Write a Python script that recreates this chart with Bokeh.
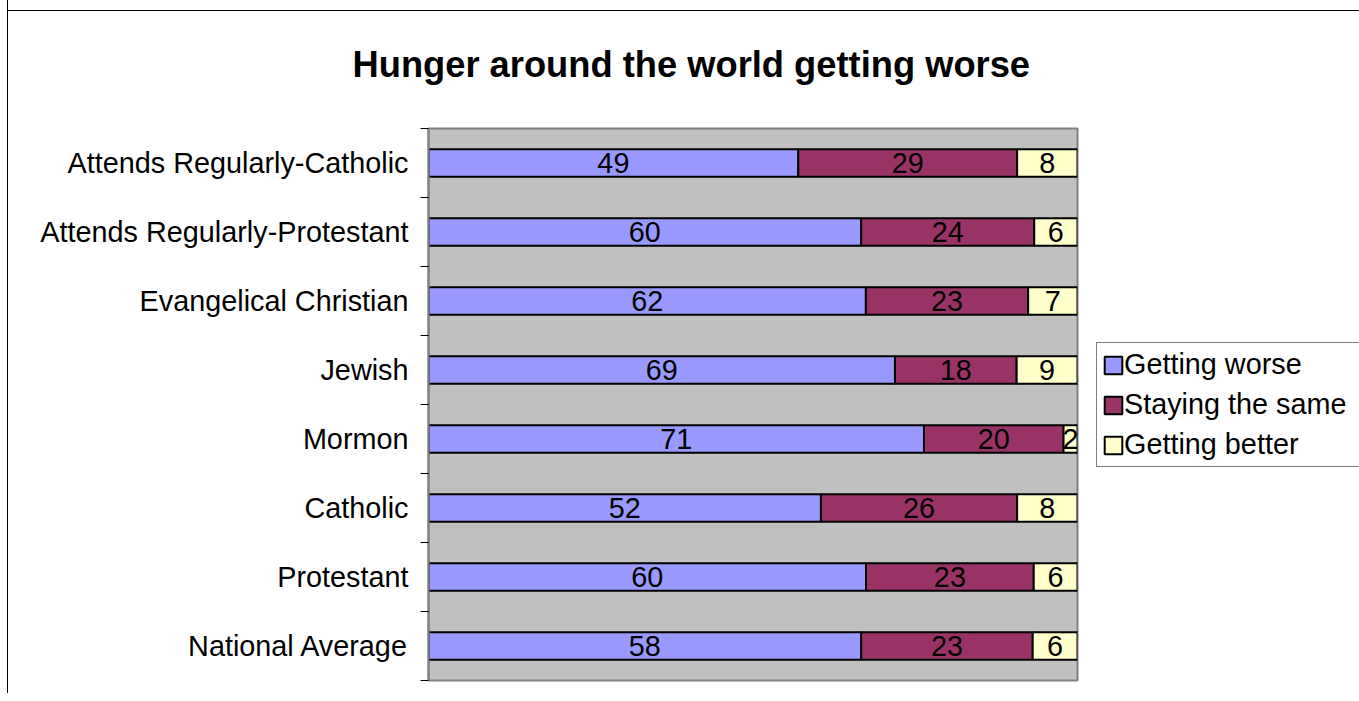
from bokeh.plotting import figure
from bokeh.models import (ColumnDataSource, Range1d, FixedTicker, Legend, LegendItem, Title)
from bokeh.core.properties import value
from bokeh.embed import file_html
from bokeh.resources import INLINE

# ---- data (top to bottom as shown) ----
categories = ["Attends Regularly-Catholic", "Attends Regularly-Protestant",
              "Evangelical Christian", "Jewish", "Mormon", "Catholic",
              "Protestant", "National Average"]
getting_worse = [49, 60, 62, 69, 71, 52, 60, 58]
staying_same = [29, 24, 23, 18, 20, 26, 23, 23]
getting_better = [8, 6, 7, 9, 2, 8, 6, 6]
series_names = ["Getting worse", "Staying the same", "Getting better"]
series_colors = ["#9999FF", "#993366", "#FFFFCC"]

FONT = "Liberation Sans"
n = len(categories)
ypos = [n - 1 - i + 0.5 for i in range(n)]

series = [getting_worse, staying_same, getting_better]
totals = [sum(v) for v in zip(*series)]

p = figure(frame_width=649, frame_height=552,
           min_border_left=420, min_border_top=132,
           min_border_right=280, min_border_bottom=13,
           x_range=Range1d(0, 1), y_range=Range1d(0, n),
           x_axis_location=None, output_backend="svg",
           toolbar_location=None, title=None)

# outer chart frame: left border + top line drawn behind a transparent canvas border
p.styles = {"border-left": "1px solid black", "margin-left": "7px",
            "margin-top": "-4px",
            "background": "linear-gradient(black, black) 0 14px / 100% 1px no-repeat"}

p.background_fill_color = "#C0C0C0"
p.border_fill_color = "white"
p.border_fill_alpha = 0.0
p.outline_line_color = "#808080"
p.outline_line_width = 2
p.xgrid.visible = False
p.ygrid.visible = False

title = Title(text="Hunger around the world getting worse", align="left",
              text_font=FONT, text_font_size="36.3px", text_font_style="bold",
              text_color="black", standoff=88, offset=-76)
p.add_layout(title, "above")

renderers = []
cum = [0.0] * n
for name, vals, color in zip(series_names, series, series_colors):
    left = [c / t for c, t in zip(cum, totals)]
    right = [(c + v) / t for c, v, t in zip(cum, vals, totals)]
    mid = [(l + r) / 2 for l, r in zip(left, right)]
    src = ColumnDataSource(dict(y=ypos, left=left, right=right, mid=mid,
                                txt=[str(v) for v in vals]))
    r = p.hbar(y="y", left="left", right="right", height=0.4, source=src,
               fill_color=color, line_color="black", line_width=2)
    renderers.append((name, r))
    p.text(x="mid", y="y", text="txt", source=src, text_align="center",
           text_baseline="middle", text_font=value(FONT), text_font_size="28.8px",
           text_color="black")
    cum = [c + v for c, v in zip(cum, vals)]

yaxis = p.yaxis[0]
yaxis.ticker = FixedTicker(ticks=ypos, minor_ticks=list(range(n + 1)))
yaxis.major_label_overrides = {y: c for y, c in zip(ypos, categories)}
yaxis.major_tick_out = 0
yaxis.major_tick_in = 0
yaxis.minor_tick_out = 8
yaxis.minor_tick_in = 0
yaxis.minor_tick_line_color = "black"
yaxis.minor_tick_line_width = 1
yaxis.axis_line_color = "#808080"
yaxis.axis_line_width = 2
yaxis.major_label_standoff = 12
yaxis.major_label_text_font = FONT
yaxis.major_label_text_font_size = "28.8px"
yaxis.major_label_text_color = "black"

legend = Legend(items=[LegendItem(label=nm, renderers=[r]) for nm, r in renderers],
                location=(19, 213), orientation="vertical",
                label_text_font=FONT, label_text_font_size="28.8px",
                label_text_color="black", label_width=240,
                glyph_width=22, glyph_height=22, label_standoff=0,
                padding=5, spacing=7, margin=0,
                border_line_color="black", border_line_width=1,
                background_fill_color="white", background_fill_alpha=1.0)
p.add_layout(legend, "right")

open("out.html", "w").write(file_html(p, INLINE))
